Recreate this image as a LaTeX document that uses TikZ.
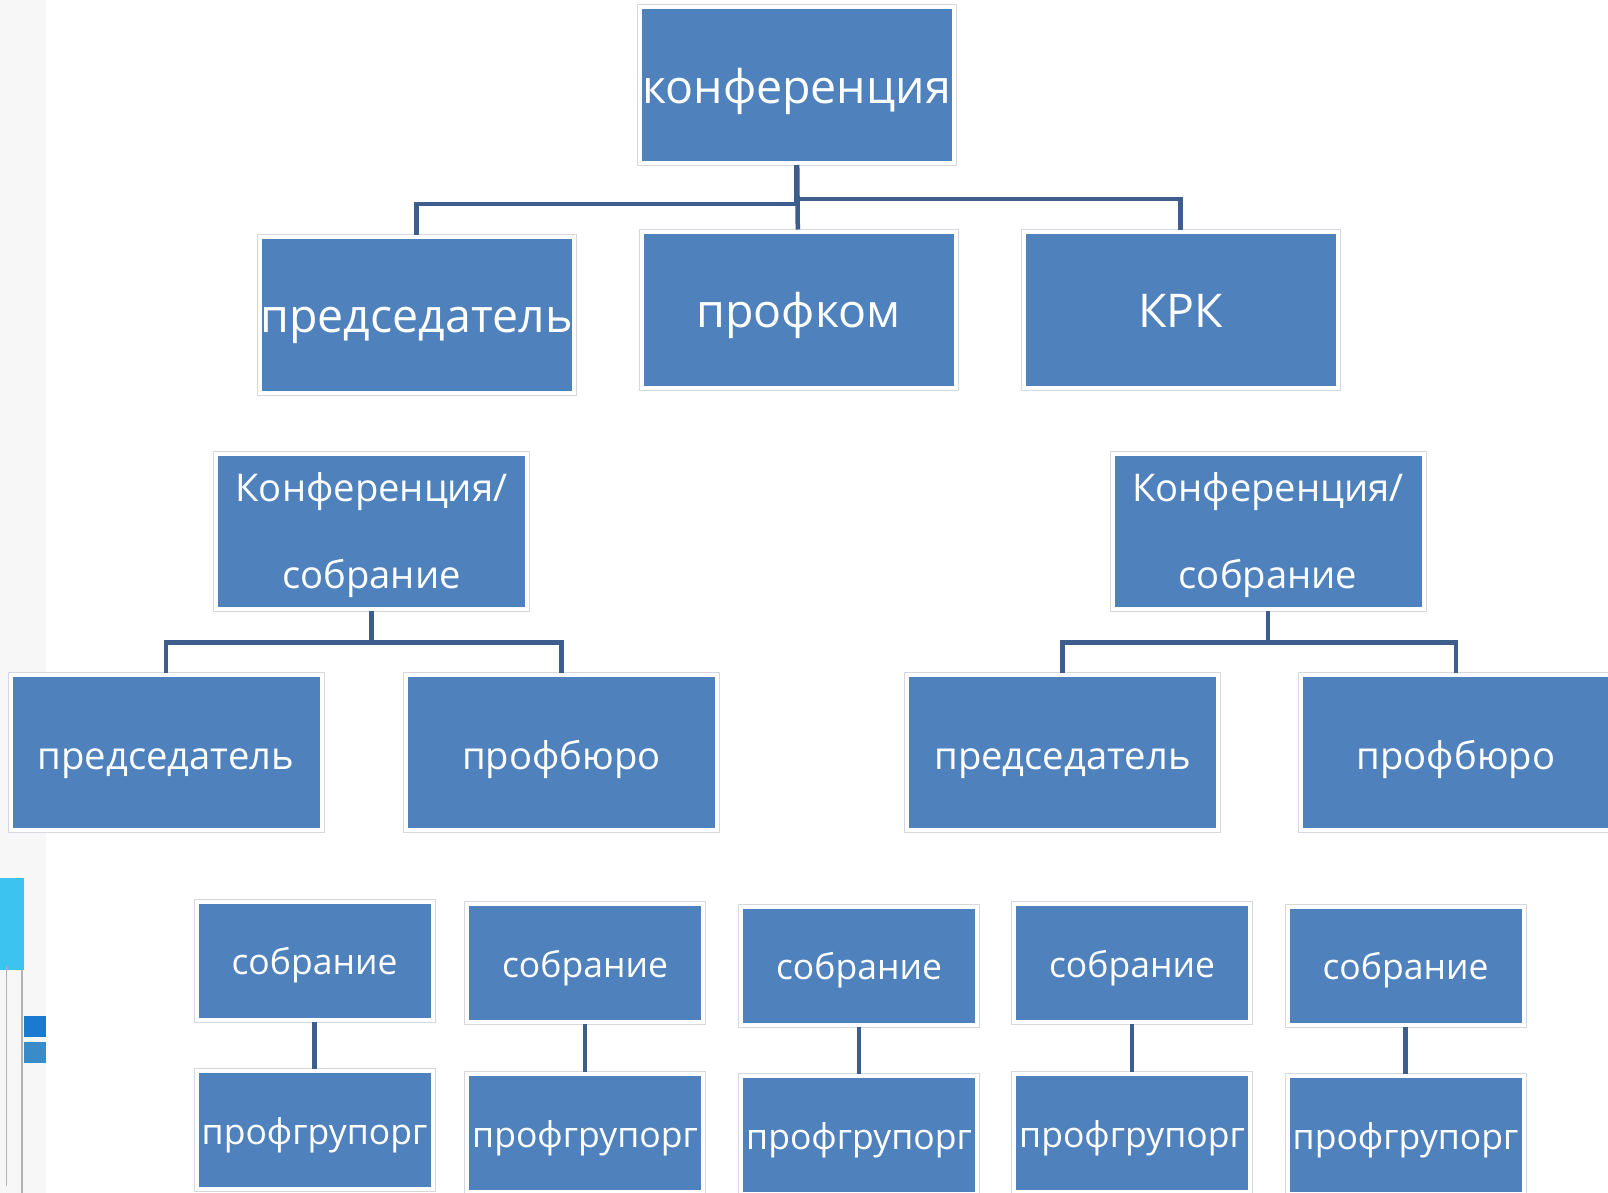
\documentclass[tikz,border=0pt]{standalone}
\usepackage{fontspec}
\setmainfont{Open Sans}
\usetikzlibrary{positioning}
\definecolor{panel}{HTML}{4F81BD}
\definecolor{wire}{HTML}{3D5D8C}
\definecolor{rim}{HTML}{D5D9DF}
\definecolor{sidebar}{HTML}{3CC3F0}
\definecolor{tabdark}{HTML}{1A7AD0}
\definecolor{tablight}{HTML}{3A8CC8}

\begin{document}
\begin{tikzpicture}[x=1pt,y=-1pt,
    unit/.style={rectangle,fill=panel,draw=white,line width=4pt,preaction={draw=rim,line width=6pt},text=white,inner sep=0pt,align=center},
    big/.style={unit,minimum width=314pt,minimum height=156pt,text height=47.9pt,text depth=11.6pt,font=\fontsize{46.5}{56}\selectfont},
    mid/.style={unit,minimum width=311pt,minimum height=155pt,text height=44.2pt,text depth=9.6pt,font=\fontsize{38.2}{87}\selectfont},
    pair/.style={mid,text height=124.4pt,text depth=9.6pt},
    small/.style={unit,minimum width=236pt,minimum height=118pt,text height=36.9pt,text depth=8.9pt,font=\fontsize{35.5}{42}\selectfont},
    link/.style={draw=wire,line width=4.5pt},
]
\useasboundingbox (0,0) rectangle (1608,1193);
\clip (0,0) rectangle (1608,1193);
\fill[white] (0,0) rectangle (1608,1193);
\fill[black!3] (0,0) rectangle (46,1193);
\fill[sidebar] (0,878) rectangle (24,970);
\draw[gray!60,line width=1.5pt] (22,970) -- (22,1193);
\draw[gray!60,line width=1pt] (6,966) -- (6,1186);
\fill[tabdark] (24,1016) rectangle (46,1037);
\fill[tablight] (24,1042) rectangle (46,1063);

\node[big] (conf) at (796.5,85) {конференция};
\node[big] (chair) at (416.5,314.5) {председатель};
\node[big] (prof) at (798.5,309.5) {профком};
\node[big] (krk) at (1180.5,309.5) {КРК};

\node[pair] (meetl) at (371.5,531) {Конференция/\\собрание};
\node[pair] (meetr) at (1268,531) {Конференция/\\собрание};
\node[mid] (chairl) at (166,752) {председатель};
\node[mid] (burol) at (561.5,752) {профбюро};
\node[mid] (chairr) at (1062.5,752) {председатель};
\node[mid] (buror) at (1456,752) {профбюро};

\draw[link] (conf.south) -- ++(0,39) -| (chair.north);
\draw[link] (conf.south) -- ++(0,34) -| (krk.north);
\draw[link] (conf) -- (prof);
\draw[link] (meetl.south) -- ++(0,32) -| (chairl.north);
\draw[link] (meetl.south) -- ++(0,32) -| (burol.north);
\draw[link] (meetr.south) -- ++(0,32) -| (chairr.north);
\draw[link] (meetr.south) -- ++(0,32) -| (buror.north);

\foreach \x/\ya/\yb [count=\i] in {314.5/960.5/1130,585/963/1133,859/965.5/1135,1132/963/1133,1405.5/965.5/1135}{
  \node[small] (meet\i) at (\x,\ya) {собрание};
  \node[small] (org\i) at (\x,\yb) {профгрупорг};
  \draw[link] (meet\i) -- (org\i);
}
\end{tikzpicture}
\end{document}
